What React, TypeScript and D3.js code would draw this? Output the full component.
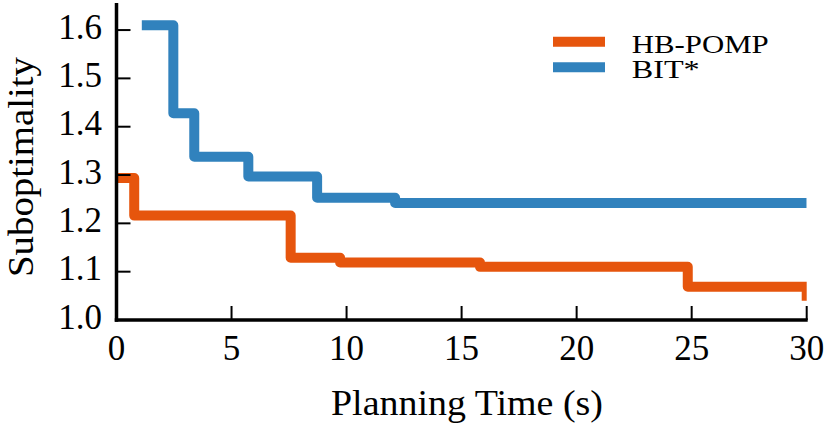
import React from "react";
import * as d3 from "d3";

const hbTimes = [0, 0.77, 7.57, 9.72, 15.8, 24.83, 30];
const hbValues = [1.294, 1.216, 1.129, 1.119, 1.11, 1.069, 1.04];
const bitTimes = [1.1, 2.47, 3.38, 5.73, 8.72, 12.11, 30];
const bitValues = [1.61, 1.428, 1.338, 1.297, 1.253, 1.242, 1.242];
const seriesNames = ["HB-POMP", "BIT*"];
const seriesColors = ["#e6550d", "#3182bd"];
const xTicks = [0, 5, 10, 15, 20, 25, 30];
const yTicks = [1.0, 1.1, 1.2, 1.3, 1.4, 1.5, 1.6];

const W = 831;
const H = 427;
const left = 116.5;
const right = 806.7;
const top = 3;
const bottom = 320;
const FONT = "Liberation Serif, DejaVu Serif, serif";

export default function App() {
  const x = d3.scaleLinear().domain([0, 30]).range([left, right]);
  const y = d3.scaleLinear().domain([1.0, 1.656]).range([bottom, top]);
  const line = d3
    .line<[number, number]>()
    .x((d) => x(d[0]))
    .y((d) => y(d[1]))
    .curve(d3.curveStepAfter);
  const hb: [number, number][] = hbTimes.map((t, i) => [t, hbValues[i]]);
  const bit: [number, number][] = bitTimes.map((t, i) => [t, bitValues[i]]);
  const series = [hb, bit];

  return (
    <svg
      width={W}
      height={H}
      style={{ position: "absolute", left: 0, top: 0, background: "#fff", fontFamily: FONT }}
    >
      <defs>
        <clipPath id="plotclip">
          <rect x={left} y={top} width={right - left} height={bottom - top} />
        </clipPath>
      </defs>
      <g clipPath="url(#plotclip)">
        {series.map((s, i) => (
          <path
            key={i}
            d={line(s) || ""}
            fill="none"
            stroke={seriesColors[i]}
            strokeWidth={10}
            strokeLinejoin="round"
            strokeLinecap="butt"
          />
        ))}
      </g>
      {xTicks.map((t) => (
        <g key={"x" + t}>
          <line x1={x(t)} x2={x(t)} y1={bottom} y2={bottom - 14} stroke="#000" strokeWidth={2} />
          <text x={x(t)} y={360} textAnchor="middle" fontSize={35} fill="#000">
            {t}
          </text>
        </g>
      ))}
      {yTicks.map((t) => (
        <g key={"y" + t}>
          <line x1={left} x2={left + 14} y1={y(t)} y2={y(t)} stroke="#000" strokeWidth={2} />
          <text x={102} y={y(t) + 8.5} textAnchor="end" fontSize={35} fill="#000">
            {t.toFixed(1)}
          </text>
        </g>
      ))}
      <line x1={left} x2={left} y1={top} y2={bottom + 1.75} stroke="#000" strokeWidth={3.5} />
      <line x1={left - 1.75} x2={right + 1} y1={bottom} y2={bottom} stroke="#000" strokeWidth={3.5} />
      <text x={467} y={415} textAnchor="middle" fontSize={35} fill="#000" textLength={272} lengthAdjust="spacingAndGlyphs">
        Planning Time (s)
      </text>
      <text
        transform={`translate(33,167) rotate(-90)`}
        textAnchor="middle"
        fontSize={35}
        fill="#000"
        textLength={220}
        lengthAdjust="spacingAndGlyphs"
      >
        Suboptimality
      </text>
      {seriesNames.map((n, i) => (
        <g key={n}>
          <line x1={553} x2={605} y1={41.7 + i * 25.6} y2={41.7 + i * 25.6} stroke={seriesColors[i]} strokeWidth={10} />
          <text
            x={631.7}
            y={52.8 + i * 25.4}
            fontSize={26}
            fill="#000"
            textLength={i === 0 ? 137 : 68}
            lengthAdjust="spacingAndGlyphs"
          >
            {n}
          </text>
        </g>
      ))}
    </svg>
  );
}
